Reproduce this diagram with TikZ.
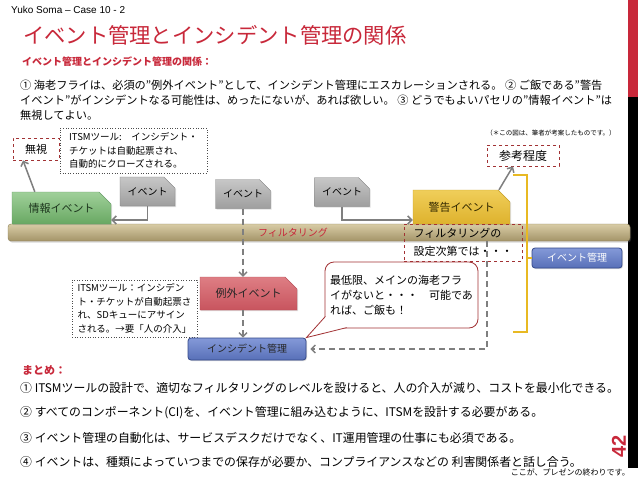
\documentclass[tikz,border=0pt]{standalone}
\usepackage{fontspec}
\setmainfont{Noto Sans CJK JP}
\newfontfamily\latinf{Liberation Sans}
\usetikzlibrary{shapes.misc,arrows.meta,shadows}
\definecolor{titlered}{HTML}{C8283A}
\definecolor{boxred}{HTML}{A23234}
\definecolor{arrowgray}{HTML}{7F7F7F}
\definecolor{bracketyellow}{HTML}{E8B923}
\begin{document}
\begin{tikzpicture}[x=1pt,y=-1pt,
  txt/.style={anchor=west,inner sep=0pt},
  evshape/.style={chamfered rectangle,chamfered rectangle corners=north east,
    chamfered rectangle xsep=6pt,chamfered rectangle ysep=6pt,inner sep=1pt,
    drop shadow={shadow xshift=1pt,shadow yshift=-1pt,opacity=0.25}},
  graybox/.style={evshape,draw=arrowgray,top color=black!22,bottom color=black!38,
    minimum width=55pt,minimum height=29pt,font=\fontsize{10}{12}\selectfont},
  infobox/.style={evshape,draw=green!35!black!60,top color={rgb,255:red,160;green,208;blue,154},
    bottom color={rgb,255:red,104;green,168;blue,98},minimum width=99pt,minimum height=32pt,
    text={rgb,255:red,30;green,55;blue,30},font=\fontsize{11}{13}\selectfont},
  warnbox/.style={evshape,draw={rgb,255:red,200;green,160;blue,40},top color={rgb,255:red,240;green,206;blue,90},
    bottom color={rgb,255:red,222;green,178;blue,45},minimum width=97pt,minimum height=34pt,
    text={rgb,255:red,50;green,40;blue,0},font=\fontsize{11}{13}\selectfont},
  excbox/.style={evshape,draw={rgb,255:red,185;green,80;blue,90},top color={rgb,255:red,222;green,126;blue,132},
    bottom color={rgb,255:red,200;green,84;blue,94},minimum width=97pt,minimum height=33pt,
    text=black!85,font=\fontsize{11}{13}\selectfont},
  mgmtbox/.style={rectangle,rounded corners=3pt,draw={rgb,255:red,52;green,73;blue,138},line width=0.8pt,
    top color={rgb,255:red,132;green,153;blue,216},bottom color={rgb,255:red,88;green,112;blue,184},
    inner sep=1pt,font=\fontsize{10}{12}\selectfont,
    drop shadow={shadow xshift=1pt,shadow yshift=-1pt,opacity=0.3}},
  redbox/.style={rectangle,draw=boxred,dashed,line width=0.8pt,inner sep=2pt},
  dotbox/.style={rectangle,draw=black!70,dotted,line width=0.6pt,inner sep=2pt,align=left,
    font=\fontsize{9.5}{13.5}\selectfont},
  grayarrow/.style={draw=arrowgray,line width=1.5pt,-{Straight Barb[length=4pt,width=8pt]}},
  dasharrow/.style={draw=arrowgray,line width=1.4pt,dash pattern=on 6pt off 4pt,
    -{Straight Barb[length=4pt,width=8pt]}},
  bracket/.style={draw=bracketyellow,line width=1.8pt}
]
\useasboundingbox (0,0) rectangle (638,479);
\fill[white] (0,0) rectangle (638,479);
% side bars
\fill[titlered] (628,0) rectangle (638,97);
\fill[black] (628,97) rectangle (638,468);

% headings
\node[txt,font=\latinf\fontsize{10}{12}\selectfont] (author) at (11,10) {Yuko Soma – Case 10 - 2};
\node[txt,text=titlered,font=\fontsize{21.3}{24}\selectfont] (title) at (23,35) {イベント管理とインシデント管理の関係};
\node[txt,text=titlered,font=\bfseries\fontsize{10}{12}\selectfont] (sub) at (22,62) {イベント管理とインシデント管理の関係：};
\node[txt,font=\fontsize{11.2}{13}\selectfont] (p1) at (20,85) {① 海老フライは、必須の”例外イベント”として、インシデント管理にエスカレーションされる。 ② ご飯である”警告};
\node[txt,font=\fontsize{11.2}{13}\selectfont] (p2) at (20,100.5) {イベント”がインシデントなる可能性は、めったにないが、あれば欲しい。 ③ どうでもよいパセリの”情報イベント”は};
\node[txt,font=\fontsize{11.2}{13}\selectfont] (p3) at (20,115) {無視してよい。};
\node[font=\fontsize{6.5}{8}\selectfont] (note) at (551,133) {（＊この図は、筆者が考案したものです。）};

% upper boxes
\node[redbox,minimum width=46pt,minimum height=22pt,font=\fontsize{11}{13}\selectfont] (ignore) at (36,149) {無視};
\node[dotbox,minimum width=147pt,minimum height=45pt] (itsm1) at (133.5,150.5) {ITSMツール:　インシデント・\\チケットは自動起票され、\\自動的にクローズされる。};
\node[redbox,minimum width=72pt,minimum height=21pt,font=\fontsize{12}{14}\selectfont] (ref) at (523,155.5) {参考程度};

% filter bar
\node[rectangle,rounded corners=3pt,minimum width=622pt,minimum height=17pt,inner sep=0pt,
  draw={rgb,255:red,140;green,126;blue,85},top color={rgb,255:red,216;green,204;blue,166},
  bottom color={rgb,255:red,164;green,148;blue,104},
  drop shadow={shadow xshift=1pt,shadow yshift=-1.5pt,opacity=0.3}] (bar) at (319,232.5) {};
\node[text=titlered,font=\fontsize{10}{12}\selectfont] (fl) at (293,233) {フィルタリング};

% events
\node[infobox] (info) at (61.5,208) {情報イベント};
\node[graybox] (ev1) at (147.5,191.5) {イベント};
\node[graybox] (ev2) at (243,194) {イベント};
\node[graybox] (ev3) at (342,192) {イベント};
\node[warnbox] (warn) at (461.5,207) {警告イベント};

\node[redbox,minimum width=118pt,minimum height=37pt,align=left,font=\fontsize{11}{18}\selectfont] (fbox) at (463,242.5) {フィルタリングの\\設定次第では・・・};
\node[mgmtbox,minimum width=90pt,minimum height=20pt,text=white] (evm) at (577,258) {イベント管理};

% lower
\node[excbox] (exc) at (248.5,293.5) {例外イベント};
\node[dotbox,minimum width=125pt,minimum height=57pt] (itsm2) at (134.5,308.5) {ITSMツール：インシデン\\ト・チケットが自動起票さ\\れ、SDキューにアサイン\\される。→要「人の介入」};
\node[mgmtbox,minimum width=118pt,minimum height=22pt,text=black!85] (inc) at (247,349) {インシデント管理};

% callout
\node[rectangle,rounded corners=9pt,draw=boxred,line width=0.8pt,fill=white,minimum width=153pt,minimum height=66pt,
  align=left,font=\fontsize{11}{15}\selectfont,inner sep=2pt] (call) at (401.5,295) {最低限、メインの海老フラ\\イがないと・・・　可能であ\\れば、ご飯も！};
\coordinate (tb1) at ([xshift=22pt,yshift=0.8pt]call.south west);
\coordinate (tb2) at ([xshift=0.8pt,yshift=12pt]call.south west);
\fill[white] (tb1) -- (inc.north east) -- (tb2) -- cycle;
\draw[boxred,line width=0.8pt] (tb1) -- (inc.north east) -- (tb2);

% connectors
\draw[grayarrow] ([xshift=23pt]info.north west) -- ([xshift=-13pt]ignore.south);
\draw[grayarrow] (ev1.south) |- ([yshift=-12pt]info.east);
\draw[grayarrow] (ev3.south) |- ([yshift=-13pt]warn.west);
\draw[grayarrow] ([xshift=37.5pt]warn.north) -- ([xshift=-10pt]ref.south);
\draw[dasharrow] (ev2.south) -- (ev2.south |- exc.north);
\draw[dasharrow] (ev2.south |- exc.south) -- (ev2.south |- inc.north);
\coordinate (dtop) at (487,241);
\draw[dasharrow] (dtop) |- ([xshift=4pt]inc.east);
% bracket
\coordinate (br1) at (513,175);
\coordinate (br2) at (527,175);
\coordinate (br3) at (527,332);
\coordinate (br4) at (513,332);
\draw[bracket] (br1) -- (br2) -- (br3) -- (br4);
\draw[bracket] (br2 |- evm.west) -- (evm.west);

% summary
\node[txt,text=titlered,font=\bfseries\fontsize{11}{13}\selectfont] (sum) at (22,370) {まとめ：};
\node[txt,font=\fontsize{11.9}{13}\selectfont] (s1) at (20,388) {① ITSMツールの設計で、適切なフィルタリングのレベルを設けると、人の介入が減り、コストを最小化できる。};
\node[txt,font=\fontsize{11.9}{13}\selectfont] (s2) at (20,413) {② すべてのコンポーネント(CI)を、イベント管理に組み込むように、ITSMを設計する必要がある。};
\node[txt,font=\fontsize{11.9}{13}\selectfont] (s3) at (20,438) {③ イベント管理の自動化は、サービスデスクだけでなく、IT運用管理の仕事にも必須である。};
\node[txt,font=\fontsize{11.9}{13}\selectfont] (s4) at (20,462) {④ イベントは、種類によっていつまでの保存が必要か、コンプライアンスなどの 利害関係者と話し合う。};
\node[anchor=east,inner sep=0pt,font=\fontsize{8}{10}\selectfont] (end) at (630,472) {ここが、プレゼンの終わりです。};
\node[rotate=90,text=titlered,font=\latinf\bfseries\fontsize{20}{22}\selectfont,inner sep=0pt] (pg) at (619,446) {42};
\end{tikzpicture}
\end{document}
